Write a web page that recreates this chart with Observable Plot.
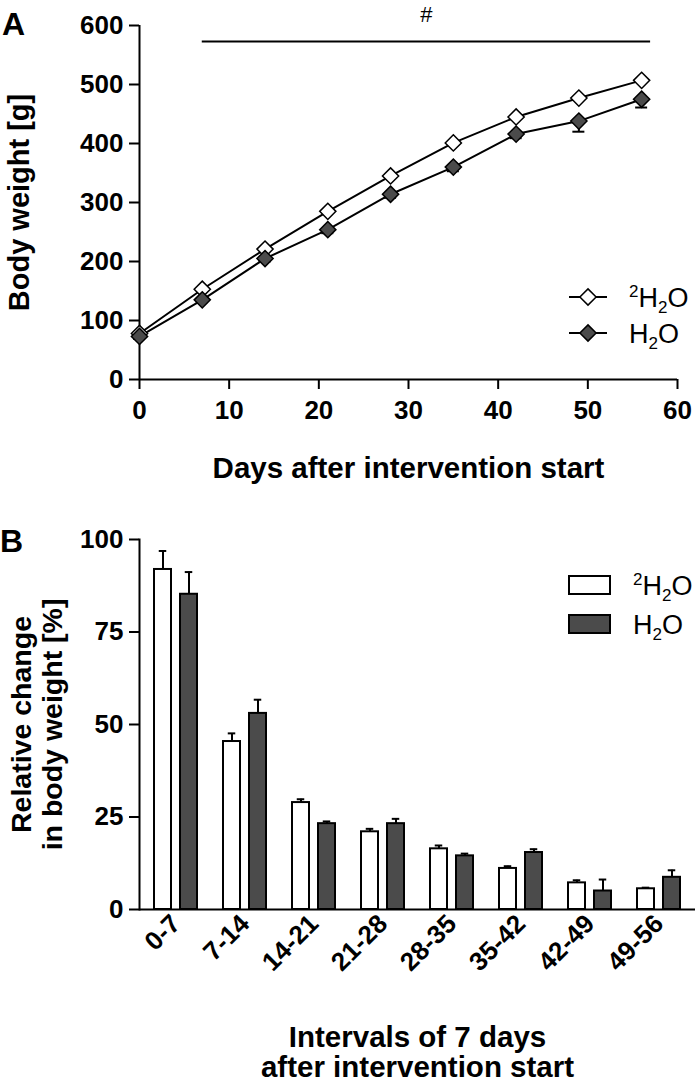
<!DOCTYPE html>
<html><head><meta charset="utf-8">
<script src="https://cdn.jsdelivr.net/npm/d3@7"></script>
<script src="https://cdn.jsdelivr.net/npm/@observablehq/plot@0.6"></script>
<style>
body{margin:0;background:#fff;}
#wrap{position:relative;width:700px;height:1086px;overflow:hidden;background:#fff;}
#wrap > svg{display:block;}
#overlay{position:absolute;left:0;top:0;pointer-events:none;}
</style></head><body><div id="wrap"></div>
<script>
// ---------- Panel A data ----------
const days = [0, 7, 14, 21, 28, 35, 42, 49, 56];
const weightD2O = [78, 153, 221, 285, 345, 401, 445, 477, 507];
const seD2O = [3, 3, 4, 4, 5, 5, 5, 5, 4];
const weightH2O = [73, 135, 205, 254, 314, 360, 416, 438, 475];
const seH2O = [4, 4, 5, 6, 6, 7, 7, 18, 14];
const xTicksA = [0, 10, 20, 30, 40, 50, 60];
const yTicksA = [0, 100, 200, 300, 400, 500, 600];
const sigBar = [{from: 7, to: 57, y: 573, label: "#"}];

// ---------- Panel B data ----------
const intervals = ["0-7", "7-14", "14-21", "21-28", "28-35", "35-42", "42-49", "49-56"];
const changeD2O = [91.9, 45.4, 28.9, 21.0, 16.4, 11.1, 7.2, 5.6];
const changeSeD2O = [5.0, 2.2, 0.9, 0.8, 0.9, 0.6, 0.7, 0.3];
const changeH2O = [85.2, 53.0, 23.2, 23.2, 14.5, 15.4, 5.0, 8.7];
const changeSeH2O = [6.0, 3.7, 0.6, 1.3, 0.6, 0.9, 3.1, 1.9];
const yTicksB = [0, 25, 50, 75, 100];

const FONT = "'Liberation Sans', Arial, Helvetica, sans-serif";
const DARK = "#4b4b4b";

const rowsA = days.map((d, i) => ({day: d, d2o: weightD2O[i], sd2o: seD2O[i], h2o: weightH2O[i], sh2o: seH2O[i]}));

const chartA = Plot.plot({
  width: 700, height: 500,
  marginLeft: 139, marginRight: 23, marginTop: 25, marginBottom: 121,
  style: {fontFamily: FONT, fontSize: "26px", fontWeight: "bold", color: "#000", background: "#fff", overflow: "visible"},
  x: {domain: [0, 60]},
  y: {domain: [0, 600]},
  marks: [
    Plot.axisX({ticks: xTicksA, tickSize: 10, tickPadding: 11, strokeWidth: 2, label: null}),
    Plot.axisY({ticks: yTicksA, tickSize: 10, tickPadding: 6, strokeWidth: 2, label: null}),
    Plot.ruleY([0], {strokeWidth: 2}),
    Plot.ruleX([0], {strokeWidth: 2}),
    Plot.ruleY(sigBar, {x1: "from", x2: "to", y: "y", strokeWidth: 2}),
    Plot.text(sigBar, {x: d => (d.from + d.to) / 2, y: "y", text: "label", dy: -26, fontSize: 22, fontWeight: "normal"}),
    Plot.line(rowsA, {x: "day", y: "d2o", stroke: "#000", strokeWidth: 2}),
    Plot.line(rowsA, {x: "day", y: "h2o", stroke: "#000", strokeWidth: 2}),
    Plot.ruleX(rowsA, {x: "day", y1: "h2o", y2: d => d.h2o - d.sh2o, strokeWidth: 2}),
    Plot.ruleY(rowsA, {x1: "day", x2: "day", y: d => d.h2o - d.sh2o, insetLeft: -6, insetRight: -6, strokeWidth: 2}),
    Plot.ruleX(rowsA, {x: "day", y1: "d2o", y2: d => d.d2o + d.sd2o, strokeWidth: 2}),
    Plot.dot(rowsA, {x: "day", y: "d2o", symbol: "diamond2", r: 7.3, fill: "#fff", stroke: "#000", strokeWidth: 1.5}),
    Plot.dot(rowsA, {x: "day", y: "h2o", symbol: "diamond2", r: 7.3, fill: DARK, stroke: "#000", strokeWidth: 1.5}),
    Plot.text(["Days after intervention start"], {frameAnchor: "bottom", dy: 89, textAnchor: "middle", lineAnchor: "middle", fontSize: 29.5, fontWeight: "bold"}),
    Plot.text(["Body weight [g]"], {frameAnchor: "left", dx: -120, rotate: -90, textAnchor: "middle", lineAnchor: "middle", fontSize: 29, fontWeight: "bold"})
  ]
});

const rowsB = intervals.map((k, i) => ({k, d2o: changeD2O[i], sd2o: changeSeD2O[i], h2o: changeH2O[i], sh2o: changeSeH2O[i]}));
const BAND = 556 / intervals.length;
const OUT = 13, BARW = 17.5, GAP = 8.5;
const capHalf = 4;
const cW = OUT + BARW / 2, cD = OUT + BARW + GAP + BARW / 2;

const chartB = Plot.plot({
  width: 700, height: 586,
  marginLeft: 139, marginRight: 5, marginTop: 39, marginBottom: 177,
  style: {fontFamily: FONT, fontSize: "26px", fontWeight: "bold", color: "#000", background: "#fff", overflow: "visible"},
  x: {type: "band", domain: intervals, padding: 0},
  y: {domain: [0, 100]},
  marks: [
    Plot.axisX({tickRotate: -45, tickSize: 0, tickPadding: 10, fontSize: 26, label: null}),
    Plot.axisY({ticks: yTicksB, tickSize: 10, tickPadding: 6, strokeWidth: 2, label: null}),
    Plot.ruleX(rowsB, {x: "k", y1: "d2o", y2: d => d.d2o + d.sd2o, dx: cW - BAND / 2, strokeWidth: 2}),
    Plot.tickY(rowsB, {x: "k", y: d => d.d2o + d.sd2o, insetLeft: cW - capHalf, insetRight: BAND - cW - capHalf, strokeWidth: 2}),
    Plot.ruleX(rowsB, {x: "k", y1: "h2o", y2: d => d.h2o + d.sh2o, dx: cD - BAND / 2, strokeWidth: 2}),
    Plot.tickY(rowsB, {x: "k", y: d => d.h2o + d.sh2o, insetLeft: cD - capHalf, insetRight: BAND - cD - capHalf, strokeWidth: 2}),
    Plot.barY(rowsB, {x: "k", y: "d2o", fill: "#fff", stroke: "#000", strokeWidth: 2, insetLeft: OUT, insetRight: BAND - OUT - BARW}),
    Plot.barY(rowsB, {x: "k", y: "h2o", fill: DARK, stroke: "#000", strokeWidth: 2, insetLeft: OUT + BARW + GAP, insetRight: OUT}),
    Plot.ruleY([0], {strokeWidth: 2}),
    Plot.frame({anchor: "left", strokeWidth: 2}),
    Plot.text(["Intervals of 7 days\nafter intervention start"], {frameAnchor: "bottom", dy: 143, textAnchor: "middle", lineAnchor: "middle", lineHeight: 1.03, fontSize: 29.5, fontWeight: "bold"}),
    Plot.text(["Relative change\nin body weight [%]"], {frameAnchor: "left", dx: -103, rotate: -90, textAnchor: "middle", lineAnchor: "middle", lineHeight: 1.1, fontSize: 28.5, fontWeight: "bold"})
  ]
});

const wrap = document.getElementById("wrap");
wrap.appendChild(chartA);
wrap.appendChild(chartB);

// ---------- legends & panel letters (overlay) ----------
const ov = d3.select(wrap).append("svg").attr("id", "overlay").attr("width", 700).attr("height", 1086)
  .style("font-family", FONT);

ov.append("text").attr("x", 2).attr("y", 35).attr("font-size", 32).attr("font-weight", "bold").text("A");
ov.append("text").attr("x", 0).attr("y", 552).attr("font-size", 32).attr("font-weight", "bold").text("B");

function waterLabel(g, x, y, heavy) {
  const t = g.append("text").attr("x", x).attr("y", y).attr("font-size", 27).attr("font-weight", "normal");
  if (heavy) t.append("tspan").attr("font-size", 17).attr("dy", -10).text("2");
  t.append("tspan").attr("dy", heavy ? 10 : 0).text("H");
  t.append("tspan").attr("font-size", 17).attr("dy", 6).text("2");
  t.append("tspan").attr("dy", -6).text("O");
}
const diamond = d3.symbol(d3.symbolDiamond2, Math.PI * 7.3 * 7.3);
const legA = [{y: 297, fill: "#fff", heavy: true}, {y: 333, fill: DARK, heavy: false}];
legA.forEach(d => {
  ov.append("line").attr("x1", 569).attr("x2", 607).attr("y1", d.y).attr("y2", d.y).attr("stroke", "#000").attr("stroke-width", 2);
  ov.append("path").attr("d", diamond()).attr("transform", `translate(588,${d.y})`).attr("fill", d.fill).attr("stroke", "#000").attr("stroke-width", 1.5);
  waterLabel(ov, 629, d.y + 10, d.heavy);
});
const legB = [{y: 585, fill: "#fff", heavy: true}, {y: 624, fill: DARK, heavy: false}];
legB.forEach(d => {
  ov.append("rect").attr("x", 569).attr("y", d.y - 9).attr("width", 41).attr("height", 18).attr("fill", d.fill).attr("stroke", "#000").attr("stroke-width", 2);
  waterLabel(ov, 633, d.y + 10, d.heavy);
});
</script></body></html>
